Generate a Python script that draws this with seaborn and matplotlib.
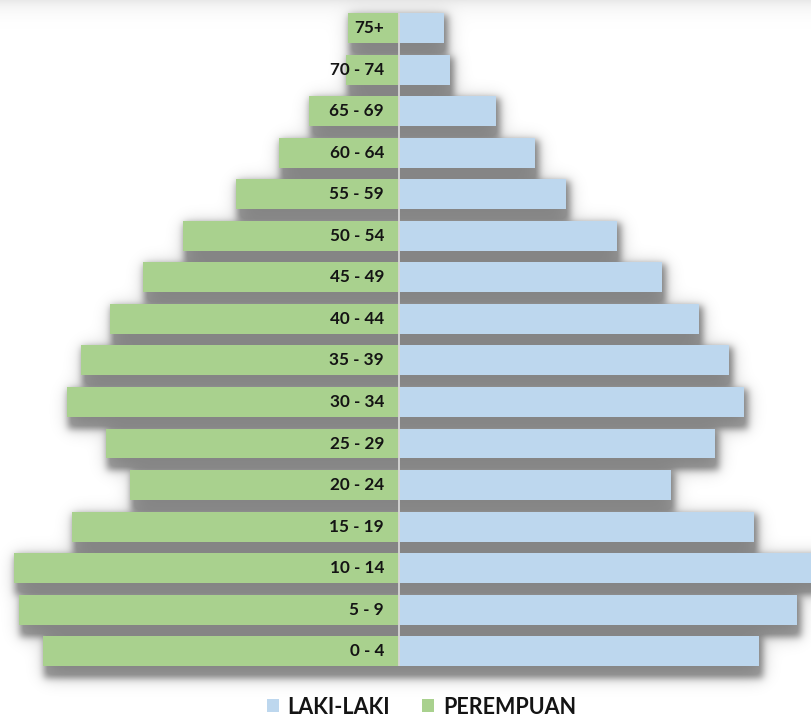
import numpy as np
import pandas as pd
import matplotlib
matplotlib.use("Agg")
import matplotlib.pyplot as plt
from matplotlib.patches import Patch
import seaborn as sns

# Age groups from youngest to oldest
age_groups = ["0 - 4", "5 - 9", "10 - 14", "15 - 19", "20 - 24", "25 - 29",
              "30 - 34", "35 - 39", "40 - 44", "45 - 49", "50 - 54", "55 - 59",
              "60 - 64", "65 - 69", "70 - 74", "75+"]
laki_laki = [360, 398, 415, 355, 272, 316, 345, 330, 300, 263, 218, 167,
             136, 97, 51, 45]
perempuan = [356, 380, 385, 327, 269, 293, 332, 318, 289, 256, 216, 163,
             120, 90, 53, 51]
legend_labels = ["LAKI-LAKI", "PEREMPUAN"]

BLUE = "#BDD7EE"
GREEN = "#A9D18E"
TEXT = "#141414"
BAR_W = 0.72

order = age_groups[::-1]  # oldest on top
df = pd.DataFrame({"usia": age_groups, "laki": laki_laki,
                   "perempuan": [-v for v in perempuan]})

sns.set_theme(style="white")
plt.rcParams["font.family"] = ["Lato", "DejaVu Sans"]

W, H = 811, 718
fig = plt.figure(figsize=(W / 100, H / 100), dpi=100)
fig.patch.set_facecolor("white")
ax = fig.add_axes([0, 0, 1, 1])
ax.patch.set_visible(False)

sns.barplot(data=df, x="perempuan", y="usia", order=order, color=GREEN,
            width=BAR_W, orient="h", saturation=1, linewidth=0, ax=ax)
sns.barplot(data=df, x="laki", y="usia", order=order, color=BLUE,
            width=BAR_W, orient="h", saturation=1, linewidth=0, ax=ax)

ax.set_xlim(-399, 412)
ax.set_ylim(16.606, -0.674)
ax.set_xlabel("")
ax.set_ylabel("")
ax.set_xticks([])
ax.set_yticks([])
for s in ax.spines.values():
    s.set_visible(False)

# age labels sit just left of the centre line
for i, lab in enumerate(order):
    ax.text(-15, i, lab, ha="right", va="center", fontsize=12.3,
            fontweight="bold", color=TEXT, zorder=6)

# centre divider spanning the bars
ax.vlines(0, -BAR_W / 2, len(order) - 1 + BAR_W / 2, color="#d6d6d6",
          lw=1.3, zorder=5)

# legend
handles = [Patch(facecolor=BLUE, edgecolor="none"),
           Patch(facecolor=GREEN, edgecolor="none")]
fig.legend(handles, legend_labels, loc="center", ncol=2, frameon=False,
           bbox_to_anchor=(421.5 / W, 11 / H),
           prop={"family": ["Lato", "DejaVu Sans"], "weight": "bold", "size": 15.5},
           labelcolor=TEXT, handlelength=0.55, handleheight=0.55,
           handletextpad=0.4, columnspacing=1.5, borderpad=0)

# soft drop shadow under the bars
fig.canvas.draw()
renderer = fig.canvas.get_renderer()
mask = np.zeros((H, W))
for p in ax.patches:
    bb = p.get_window_extent(renderer)
    x0 = int(round(bb.x0 + 1)); x1 = int(round(bb.x1 + 4))
    y0 = int(round(bb.y0 - 12)); y1 = int(round(bb.y1 - 2))
    x0, x1 = max(x0, 0), min(x1, W)
    y0, y1 = max(y0, 0), min(y1, H)
    if x1 > x0 and y1 > y0:
        mask[y0:y1, x0:x1] = 1.0


def blur(a, sigma):
    r = int(3 * sigma)
    k = np.exp(-0.5 * (np.arange(-r, r + 1) / sigma) ** 2)
    k /= k.sum()
    p = np.pad(a, r, mode="edge")
    p = np.apply_along_axis(lambda m: np.convolve(m, k, mode="same"), 0, p)
    p = np.apply_along_axis(lambda m: np.convolve(m, k, mode="same"), 1, p)
    return p[r:-r, r:-r]


tight = np.clip(blur(mask, 3.5) * 0.40, 0, 0.34)
wide = blur(mask, 9.0) * 0.22
alpha = 1 - (1 - tight) * (1 - wide)

# faint band along the top edge
rows = np.arange(H)
top_dist = (H - 1) - rows
band = 0.09 * np.exp(-top_dist / 9.0)
alpha = 1 - (1 - alpha) * (1 - band[:, None])

img = np.zeros((H, W, 4))
img[..., 3] = np.clip(alpha, 0, 1)
fig.figimage(img, xo=0, yo=0, origin="lower", zorder=-1)

fig.savefig("out.png", dpi=100, facecolor="white")
